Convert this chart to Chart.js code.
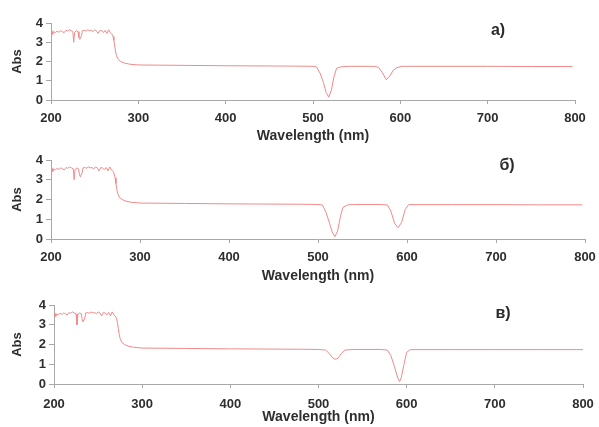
<!DOCTYPE html>
<html>
<head>
<meta charset="utf-8">
<script src="https://cdn.jsdelivr.net/npm/chart.js@4.4.1/dist/chart.umd.min.js"></script>
<style>
  body { margin: 0; background: #fff; }
  .wrap { position: relative; width: 599px; height: 427px; overflow: hidden; }
  .panel { position: absolute; left: 0; width: 620px; }
  .tag { position: absolute; font: bold 16px "Liberation Sans", Arial, sans-serif; color: #2b2b2b; transform: translate(-50%, -50%); }
</style>
</head>
<body>
<div class="wrap">
  <div class="panel" style="top:0"><canvas id="chartA" width="620" height="146"></canvas></div>
  <div class="panel" style="top:140px"><canvas id="chartB" width="620" height="146"></canvas></div>
  <div class="panel" style="top:282px"><canvas id="chartC" width="620" height="145"></canvas></div>
  <div class="tag" style="left:498px;top:30px">а)</div>
  <div class="tag" style="left:507px;top:165px">б)</div>
  <div class="tag" style="left:503px;top:313px">в)</div>
</div>
<script>
// UV part (same saturated noise in all three spectra)
const uvWavelength = [200,201,202,203,205,207,209,211,213,215,217,219,221,223,225,226,227,229,231,232,233,235,236,238,240,242,244,246,248,250,252,254,256,258,260,262,264,266,268,270,271,272,273,274,275,277,280,284,290,300,350]
const uvAbs = [3.45,3.6,3.4,3.55,3.5,3.58,3.52,3.6,3.55,3.5,3.62,3.58,3.65,3.6,3.55,3.0,3.5,3.6,3.55,3.25,3.15,3.35,3.6,3.62,3.58,3.65,3.6,3.62,3.55,3.65,3.6,3.45,3.62,3.6,3.5,3.62,3.45,3.65,3.5,3.4,3.3,3.1,2.8,2.5,2.3,2.1,2.0,1.92,1.86,1.82,1.8]

// visible part, one per panel
const wlA = [400,480,500,504,508,512,515,518,521,524,527,532,540,570,575,579,584,588,592,596,602,650,700,750,797]
const absA = [1.78,1.76,1.75,1.72,1.4,0.9,0.4,0.15,0.5,1.2,1.65,1.72,1.75,1.75,1.7,1.45,1.05,1.25,1.55,1.68,1.75,1.75,1.75,1.74,1.74]

const wlB = [400,480,500,505,509,513,516,519,522,525,528,533,540,570,578,582,586,590,594,598,602,650,700,750,797]
const absB = [1.78,1.76,1.75,1.72,1.35,0.8,0.35,0.12,0.4,1.1,1.6,1.72,1.75,1.75,1.72,1.4,0.8,0.57,0.85,1.5,1.74,1.74,1.74,1.73,1.73]

const wlC = [400,480,500,508,512,516,519,522,526,530,540,570,578,582,586,590,592,594,597,600,604,650,700,750,800]
const absC = [1.78,1.76,1.75,1.72,1.55,1.33,1.25,1.3,1.55,1.72,1.75,1.75,1.72,1.45,0.9,0.3,0.12,0.35,1.0,1.6,1.74,1.74,1.74,1.74,1.74]

const xTicks = [200,300,400,500,600,700,800]
const yTicks = [0,1,2,3,4]

const FONT = '"Liberation Sans", Arial, sans-serif'
const axisColor = '#a8a8a8'
const textColor = '#2e2e2e'
const canvasW = 620

function toPoints(wl, abs) {
    return wl.map((x, i) => ({ x: x, y: abs[i] }))
}

// plot box inside each canvas (pixels)
const panels = [
    { id: 'chartA', wl: wlA, abs: absA, h: 146, left: 51, right: 575, top: 23, bottom: 100, tickPad: 7 },
    { id: 'chartB', wl: wlB, abs: absB, h: 146, left: 51, right: 585, top: 20, bottom: 99, tickPad: 7 },
    { id: 'chartC', wl: wlC, abs: absC, h: 145, left: 54, right: 583, top: 23, bottom: 102, tickPad: 9 },
]
const padLeft = 10

panels.forEach(function (p) {
    const ctx = document.getElementById(p.id).getContext('2d')
    new Chart(ctx, {
        type: 'line',
        data: {
            datasets: [{
                data: toPoints(uvWavelength.concat(p.wl), uvAbs.concat(p.abs)),
                borderColor: '#f08a8a',
                borderWidth: 1,
                pointRadius: 0,
                tension: 0,
                fill: false
            }]
        },
        options: {
            responsive: false,
            animation: false,
            layout: { padding: { left: padLeft, right: canvasW - p.right, top: p.top, bottom: 0 } },
            plugins: { legend: { display: false }, tooltip: { enabled: false } },
            scales: {
                x: {
                    type: 'linear',
                    min: 200,
                    max: 800,
                    afterBuildTicks: function (axis) {
                        axis.ticks = xTicks.map(v => ({ value: v }))
                    },
                    afterFit: function (axis) { axis.height = p.h - p.bottom },
                    grid: { drawOnChartArea: false, drawTicks: true, tickLength: 4, color: axisColor },
                    border: { display: true, color: axisColor, width: 1 },
                    ticks: { color: textColor, font: { family: FONT, size: 13, weight: 'bold' }, padding: p.tickPad, maxRotation: 0 },
                    title: { display: true, text: 'Wavelength (nm)', color: textColor, font: { family: FONT, size: 14, weight: 'bold' }, padding: { top: 0, bottom: 1 } }
                },
                y: {
                    min: 0,
                    max: 4,
                    afterBuildTicks: function (axis) {
                        axis.ticks = yTicks.map(v => ({ value: v }))
                    },
                    afterFit: function (axis) { axis.width = p.left - padLeft },
                    grid: { drawOnChartArea: false, drawTicks: true, tickLength: 5, color: axisColor },
                    border: { display: true, color: axisColor, width: 1 },
                    ticks: { color: textColor, font: { family: FONT, size: 13, weight: 'bold' }, padding: 3 },
                    title: { display: true, text: 'Abs', color: textColor, font: { family: FONT, size: 13, weight: 'bold' }, padding: 0 }
                }
            }
        }
    })
})
</script>
</body>
</html>
